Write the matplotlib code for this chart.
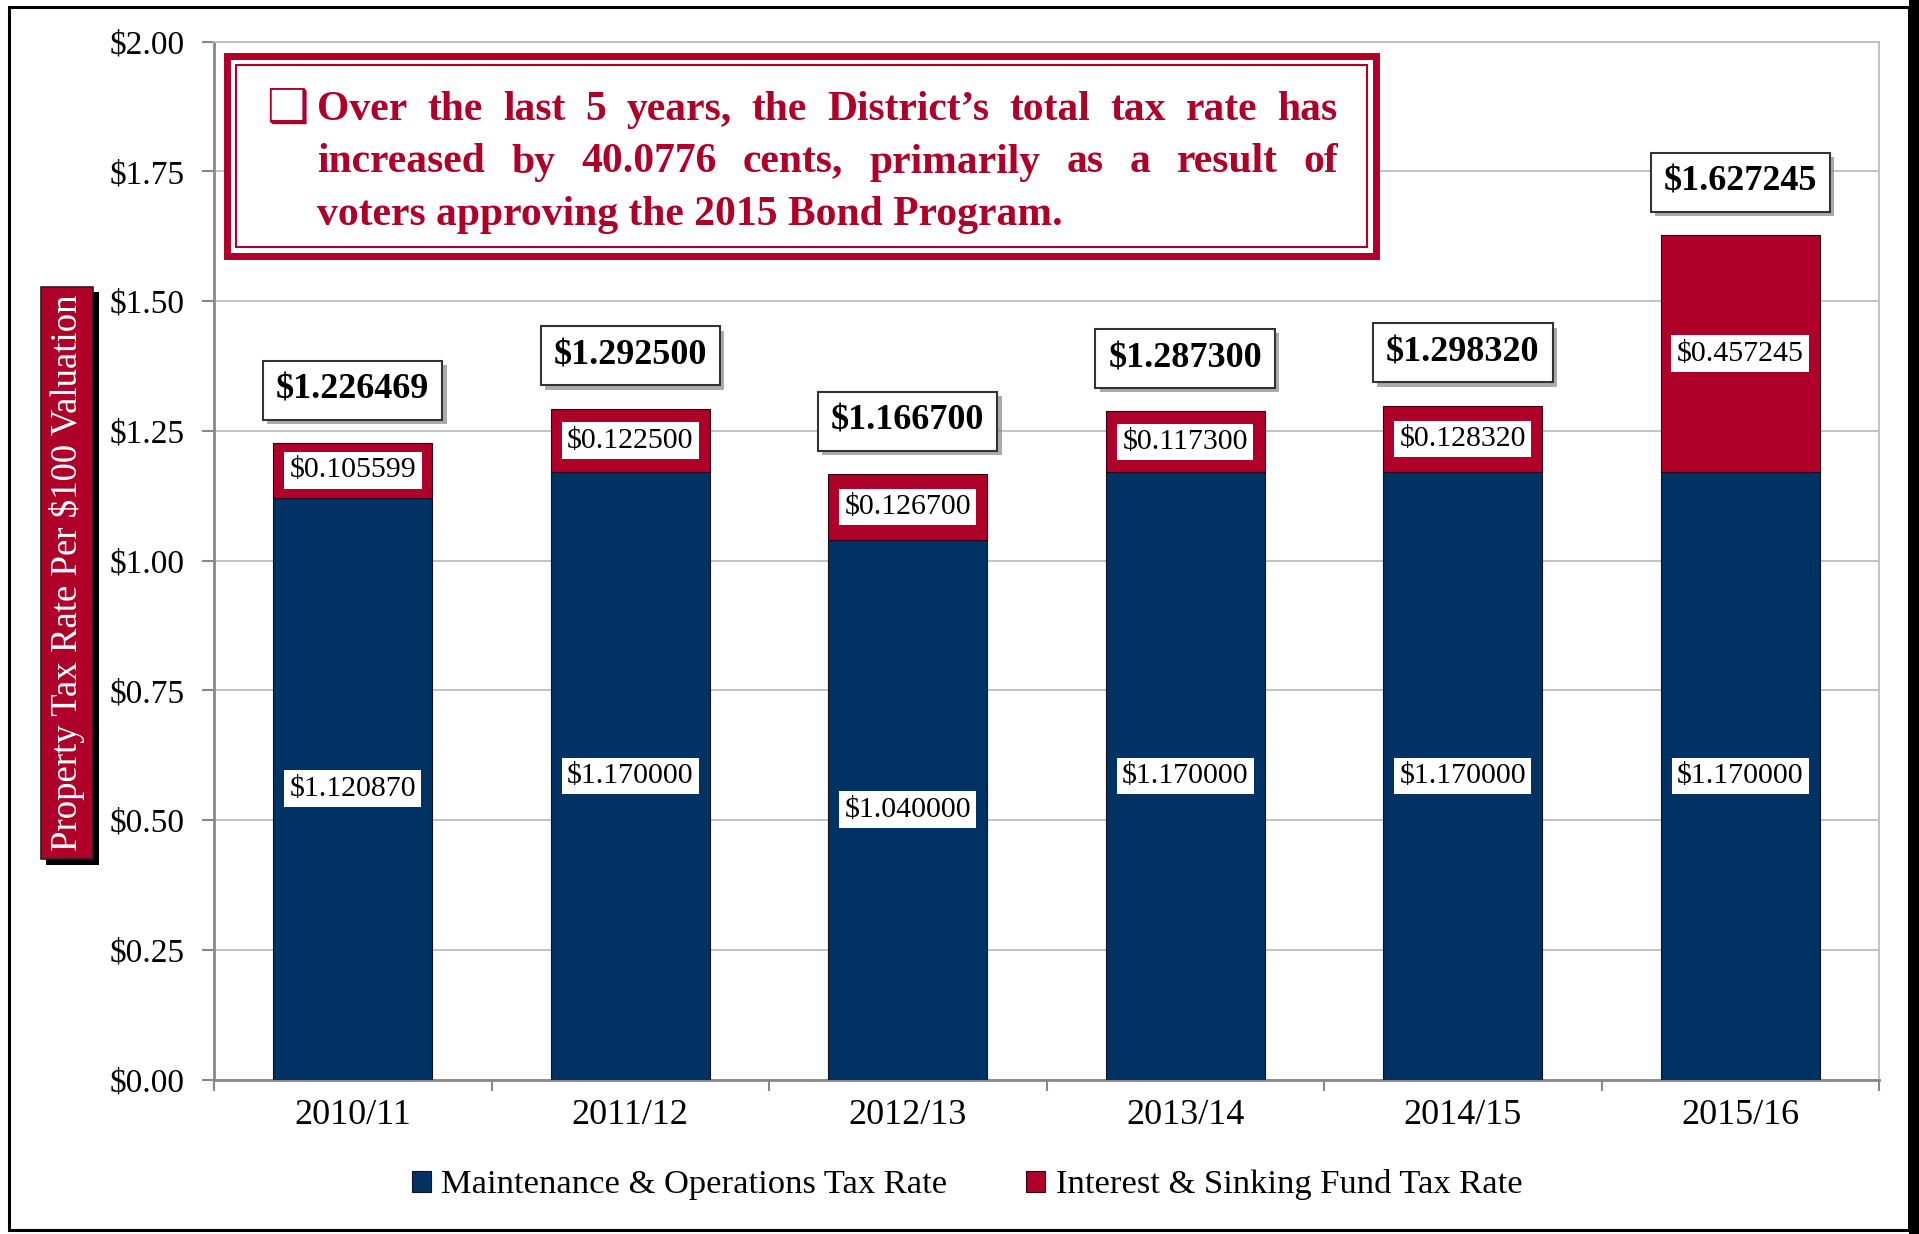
import matplotlib
matplotlib.use('Agg')
import matplotlib.pyplot as plt
from matplotlib.patches import Rectangle
import matplotlib.patheffects as pe

# ---------------- data ----------------
years = ['2010/11', '2011/12', '2012/13', '2013/14', '2014/15', '2015/16']
mo_rate = [1.120870, 1.170000, 1.040000, 1.170000, 1.170000, 1.170000]
is_rate = [0.105599, 0.122500, 0.126700, 0.117300, 0.128320, 0.457245]
total_rate = [1.226469, 1.292500, 1.166700, 1.287300, 1.298320, 1.627245]
y_ticks = [0.00, 0.25, 0.50, 0.75, 1.00, 1.25, 1.50, 1.75, 2.00]
series_names = ['Maintenance & Operations Tax Rate', 'Interest & Sinking Fund Tax Rate']
ylabel_text = 'Property Tax Rate Per $100 Valuation'
callout_lines = [
    "Over the last 5 years, the District\u2019s total tax rate has",
    "increased by 40.0776 cents, primarily as a result of",
    "voters approving the 2015 Bond Program.",
]

# ---------------- style ----------------
NAVY = '#003263'
RED = '#AE0028'
GRID = '#BDBDBD'
SERIF = ['Liberation Serif', 'DejaVu Serif']
plt.rcParams['font.family'] = SERIF

W, H = 1919, 1234
fig = plt.figure(figsize=(W / 100, H / 100), dpi=100)


def fx(px):
    return px / W


def fy(py):
    return 1 - py / H


# outer frame of the slide
fig.patches.append(Rectangle((fx(9), fy(1230)), fx(1909) - fx(9), (1230 - 7) / H,
                             transform=fig.transFigure, fill=False, ec='black', lw=2.2))
fig.patches.append(Rectangle((fx(1909), 0), 1 - fx(1909), 1, transform=fig.transFigure,
                             fc='black', ec='none'))

ax = fig.add_axes([fx(214), fy(1079.5), fx(1879) - fx(214), (1079.5 - 41.6) / H])

x = list(range(len(years)))
bw = 0.573
b1 = ax.bar(x, mo_rate, bw, color=NAVY, edgecolor='#101020', lw=0.8, zorder=3,
            label=series_names[0])
b2 = ax.bar(x, is_rate, bw, bottom=mo_rate, color=RED, edgecolor='#300010', lw=0.8,
            zorder=3, label=series_names[1])

ax.set_xlim(-0.5, len(years) - 0.5)
ax.set_ylim(0, 2.0)
ax.set_yticks(y_ticks)
ax.set_yticklabels(['${:.2f}'.format(v) for v in y_ticks], fontsize=24)
ax.set_xticks(x)
ax.set_xticklabels(years, fontsize=26)
ax.set_xticks([i - 0.5 for i in range(len(years) + 1)], minor=True)
ax.tick_params(axis='x', which='major', length=0, pad=14)
ax.tick_params(axis='x', which='minor', length=8, width=1.5, color='#888888', direction='out')
ax.tick_params(axis='y', length=9, width=1.5, color='#888888', pad=12)
ax.yaxis.grid(True, color=GRID, lw=1.3, zorder=0)
ax.set_axisbelow(True)
for s in ['left', 'bottom']:
    ax.spines[s].set_color('#888888')
    ax.spines[s].set_linewidth(2.0)
for s in ['top', 'right']:
    ax.spines[s].set_color(GRID)
    ax.spines[s].set_linewidth(1.3)

# segment labels
for i in x:
    ax.text(i, mo_rate[i] / 2, '${:.6f}'.format(mo_rate[i]), ha='center', va='center',
            fontsize=21.5, zorder=5, parse_math=False,
            bbox=dict(boxstyle='square,pad=0.18', fc='white', ec='none'))
    ax.text(i, mo_rate[i] + is_rate[i] / 2, '${:.6f}'.format(is_rate[i]), ha='center',
            va='center', fontsize=21.5, zorder=5, parse_math=False,
            bbox=dict(boxstyle='square,pad=0.18', fc='white', ec='none'))
    t = ax.annotate('${:.6f}'.format(total_rate[i]), (i, total_rate[i]), xytext=(0, 38),
                    textcoords='offset points', ha='center', va='center', fontsize=26,
                    fontweight='bold', zorder=6, annotation_clip=False,
                    bbox=dict(boxstyle='square,pad=0.36', fc='white', ec='#333333', lw=1.5))
    t.get_bbox_patch().set_path_effects([
        pe.SimplePatchShadow(offset=(3, -3), shadow_rgbFace='#888888', alpha=0.7),
        pe.Normal()])

# y label box
yl = fig.text(fx(67), fy(573), ylabel_text, rotation=90, ha='center', va='center',
              color='white', fontsize=26.5, parse_math=False,
              bbox=dict(boxstyle='square,pad=0.22', fc=RED, ec='#222222', lw=1.2))
yl.get_bbox_patch().set_path_effects([
    pe.SimplePatchShadow(offset=(4, -4), shadow_rgbFace='black', alpha=1.0), pe.Normal()])

# legend
fig.legend(handles=[b1, b2], labels=series_names, loc='center',
           bbox_to_anchor=(fx(967), fy(1185)), ncol=2, frameon=False, fontsize=24.8,
           handlelength=0.55, handleheight=0.55, handletextpad=0.3, columnspacing=2.3)

# callout box (double red border)
fig.patches.append(Rectangle((fx(227), fy(256)), fx(1376) - fx(227), (256 - 56) / H,
                             transform=fig.transFigure, fill=True, fc='white', ec=RED,
                             lw=5.0, zorder=10))
fig.patches.append(Rectangle((fx(236), fy(247)), fx(1367) - fx(236), (247 - 65) / H,
                             transform=fig.transFigure, fill=False, ec=RED, lw=1.5,
                             zorder=11))

fig.canvas.draw()
renderer = fig.canvas.get_renderer()
tk = dict(fontsize=30, fontweight='bold', color=RED, parse_math=False, zorder=12)


def width_px(s):
    t = fig.text(0, 0, s, **tk)
    w = t.get_window_extent(renderer).width
    t.remove()
    return w


left_px, right_px = 317, 1338
baselines = [120, 172.5, 225]
fig.text(fx(266), fy(baselines[0] + 2), '\u2751', fontsize=34, color=RED,
         family=['DejaVu Sans'], va='baseline', zorder=12)
for li, line in enumerate(callout_lines):
    words = line.split(' ')
    if li < len(callout_lines) - 1:
        widths = [width_px(w) for w in words]
        gap = (right_px - left_px - sum(widths)) / (len(words) - 1)
        xp = left_px
        for w, wd in zip(words, widths):
            fig.text(fx(xp), fy(baselines[li]), w, va='baseline', ha='left', **tk)
            xp += wd + gap
    else:
        fig.text(fx(left_px), fy(baselines[li]), line, va='baseline', ha='left', **tk)

fig.savefig('out.png', dpi=100)
